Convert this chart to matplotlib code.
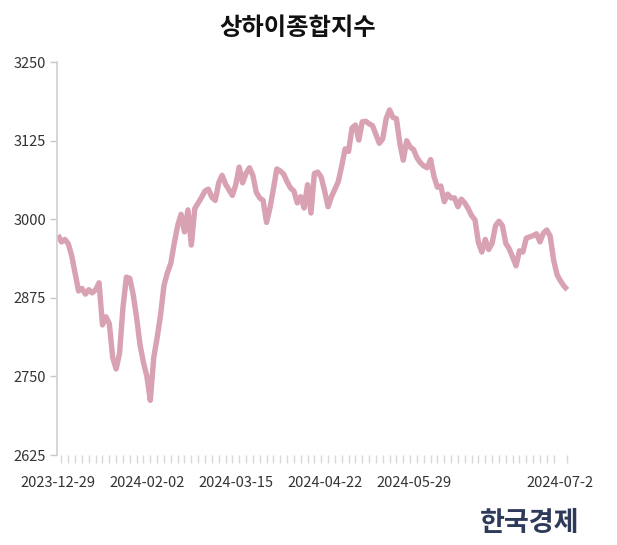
import matplotlib.pyplot as plt
import numpy as np

plt.rcParams['font.family'] = ['Noto Sans CJK KR', 'DejaVu Sans']

title = '상하이종합지수'
source = '한국경제'

# daily close
close = [
    2975, 2964, 2968, 2961, 2942, 2914, 2886, 2890, 2881, 2888,
    2883, 2888, 2899, 2832, 2845, 2834, 2780, 2762, 2787, 2860,
    2908, 2906, 2880, 2843, 2800, 2772, 2750, 2712, 2780, 2812,
    2848, 2895, 2915, 2930, 2962, 2990, 3008, 2980, 3015, 2959,
    3017, 3026, 3035, 3045, 3048, 3035, 3030, 3058, 3070, 3056,
    3047, 3038, 3055, 3083, 3058, 3073, 3082, 3070, 3043, 3034,
    3030, 2995, 3018, 3048, 3080, 3077, 3072, 3060, 3050, 3045,
    3026, 3036, 3018, 3055, 3010, 3073, 3075, 3067, 3045, 3020,
    3036, 3048, 3060, 3085, 3112, 3108, 3145, 3150, 3126, 3155,
    3156, 3152, 3149, 3135, 3121, 3128, 3160, 3174, 3162, 3160,
    3121, 3094, 3125, 3115, 3111, 3098, 3090, 3085, 3082, 3095,
    3068, 3051, 3053, 3028, 3040, 3034, 3034, 3020, 3032, 3026,
    3017, 3006, 2999, 2963, 2948, 2968, 2952, 2962, 2990, 2997,
    2990, 2962, 2953, 2940, 2926, 2950, 2948, 2970, 2972, 2974,
    2977, 2964, 2978, 2983, 2973, 2935, 2912, 2902, 2894, 2888,
]
date_labels = ['2023-12-29', '2024-02-02', '2024-03-15', '2024-04-22', '2024-05-29', '2024-07-2']
label_pos = [0, 26, 52, 78, 104, 147]
y_ticks = [2625, 2750, 2875, 3000, 3125, 3250]

fig = plt.figure(figsize=(6.17, 5.45), dpi=100)
ax = fig.add_axes([0.0924, 0.165, 0.8326, 0.721])

x = np.arange(len(close))
ax.plot(x, close, color='#d9a2b3', linewidth=3.9, solid_joinstyle='round', solid_capstyle='butt')

ax.set_xlim(-0.3, 150)
ax.set_ylim(2625, 3250)

for side in ['top', 'right', 'bottom']:
    ax.spines[side].set_visible(False)
ax.spines['left'].set_color('#d0d0d0')
ax.spines['left'].set_linewidth(1.2)

ax.set_yticks(y_ticks)
ax.tick_params(axis='y', length=5, width=1, color='#c8c8c8', labelsize=10.5, labelcolor='#333333', pad=3)

ax.set_xticks(label_pos)
ax.set_xticklabels(date_labels)
ax.set_xticks(np.arange(1, 151, 2), minor=True)
ax.tick_params(axis='x', which='major', length=0, labelsize=10.5, labelcolor='#333333', pad=15)
ax.tick_params(axis='x', which='minor', length=6, width=1, color='#d8d8d8', direction='out')
for t in ax.get_xticklabels(minor=True):
    t.set_visible(False)

fig.text(0.482, 0.948, title, ha='center', va='center', fontsize=17.5, fontweight='bold', color='#111111')
fig.text(0.858, 0.040, source, ha='center', va='center', fontsize=19.5, fontweight='heavy', color='#2e3a5a')

plt.savefig('out.png')
